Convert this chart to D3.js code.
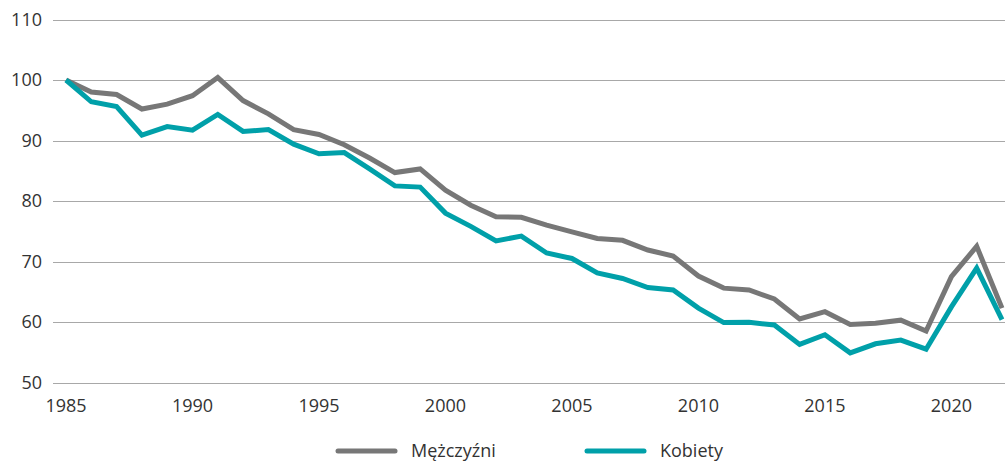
<!DOCTYPE html>
<html>
<head>
<meta charset="utf-8">
<script src="https://cdn.jsdelivr.net/npm/d3@7"></script>
<style>
  body { margin: 0; background: #fff; }
  text { font-family: "Open Sans", sans-serif; fill: #333; }
</style>
</head>
<body>
<div id="chart"></div>
<script>
// data (index, 1985 = 100)
var years = d3.range(1985, 2023)
var men = [100, 98.0, 97.6, 95.2, 96.0, 97.4, 100.4, 96.6, 94.4, 91.8,
    91.0, 89.3, 87.1, 84.7, 85.3, 81.8, 79.3, 77.4, 77.3, 76.0,
    74.9, 73.8, 73.5, 71.9, 70.9, 67.6, 65.6, 65.3, 63.8, 60.5,
    61.7, 59.6, 59.8, 60.3, 58.5, 67.5, 72.5, 62.3]
var women = [100, 96.4, 95.6, 90.9, 92.3, 91.7, 94.3, 91.5, 91.8, 89.4,
    87.8, 88.0, 85.3, 82.5, 82.3, 78.0, 75.8, 73.4, 74.2, 71.4,
    70.5, 68.1, 67.2, 65.7, 65.3, 62.3, 59.9, 59.95, 59.5, 56.3,
    57.9, 54.9, 56.4, 57.0, 55.5, 62.5, 68.9, 60.4]
var yTicks = [50, 60, 70, 80, 90, 100, 110]
var xTicks = [1985, 1990, 1995, 2000, 2005, 2010, 2015, 2020]
var seriesNames = ["Mężczyźni", "Kobiety"]
var seriesColors = ["#777777", "#00a0a9"]

var width = 1005, height = 461

var svg = d3.select("#chart")
    .append("svg")
    .attr("width", width)
    .attr("height", height)

var x = d3.scaleLinear().domain([1985, 2022]).range([66, 1002])
var y = d3.scaleLinear().domain([50, 110]).range([382.5, 19.5])

// gridlines
svg.append("g").selectAll("line")
    .data(yTicks)
    .enter().append("line")
    .attr("x1", 53)
    .attr("x2", width)
    .attr("y1", d => Math.round(y(d)) + 0.5)
    .attr("y2", d => Math.round(y(d)) + 0.5)
    .attr("stroke", "#a8a8a8")
    .attr("stroke-width", 1)

// y labels
svg.append("g").selectAll("text")
    .data(yTicks)
    .enter().append("text")
    .attr("x", 42)
    .attr("y", d => y(d))
    .attr("dy", "0.35em")
    .attr("text-anchor", "end")
    .attr("font-size", "18px")
    .text(d => d)

// x labels
svg.append("g").selectAll("text")
    .data(xTicks)
    .enter().append("text")
    .attr("x", d => x(d))
    .attr("y", 412)
    .attr("text-anchor", "middle")
    .attr("font-size", "18px")
    .text(d => d)

var line = d3.line()
    .x((d, i) => x(years[i]))
    .y(d => y(d))

;[men, women].forEach((s, i) => {
    svg.append("path")
        .datum(s)
        .attr("d", line)
        .attr("fill", "none")
        .attr("stroke", seriesColors[i])
        .attr("stroke-width", 5)
        .attr("stroke-linejoin", "miter")
})

// legend
var legendX = [338, 587]
seriesNames.forEach((name, i) => {
    svg.append("line")
        .attr("x1", legendX[i])
        .attr("x2", legendX[i] + 57)
        .attr("y1", 451)
        .attr("y2", 451)
        .attr("stroke", seriesColors[i])
        .attr("stroke-width", 5)
        .attr("stroke-linecap", "round")
    svg.append("text")
        .attr("x", legendX[i] + 73)
        .attr("y", 457)
        .attr("font-size", "18px")
        .text(name)
})
</script>
</body>
</html>
